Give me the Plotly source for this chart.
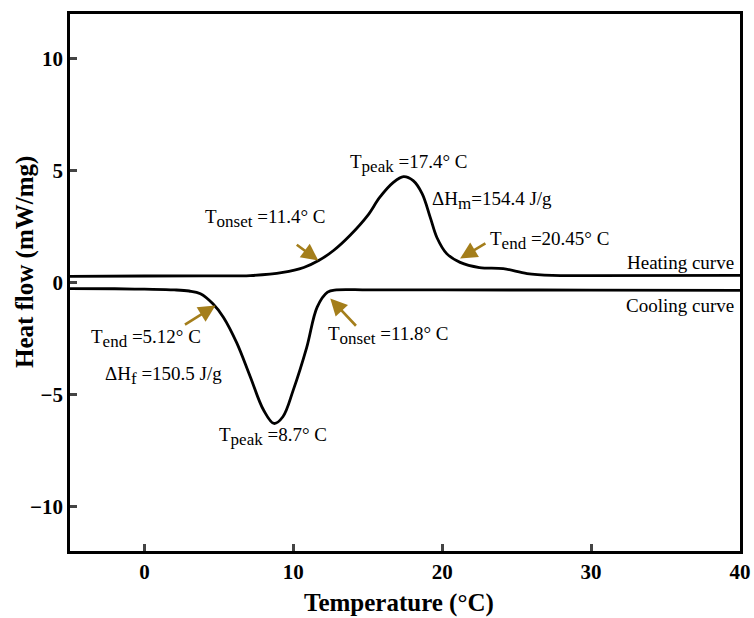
import plotly.graph_objects as go

heat_x = [-5, 0, 4, 7.1, 9.3, 10.7, 11.7, 12.7, 13.8, 15.0, 15.8, 16.7, 17.4, 18.05, 18.65, 19.2, 19.65, 20.3, 21.2, 22.5, 24.1, 25.7, 27.4, 30, 40]
heat_y = [0.27, 0.29, 0.3, 0.31, 0.45, 0.67, 0.98, 1.43, 2.1, 3.0, 3.8, 4.46, 4.73, 4.55, 3.97, 2.9, 2.0, 1.29, 0.9, 0.67, 0.62, 0.4, 0.32, 0.31, 0.32]

cool_x = [-5, -2, 0, 2, 3, 3.76, 4.6, 5.3, 6.2, 7.1, 8.0, 8.7, 9.3, 10.0, 10.9, 11.6, 12.3, 12.9, 15, 20, 30, 40]
cool_y = [-0.27, -0.28, -0.3, -0.33, -0.38, -0.5, -0.95, -1.55, -2.7, -4.2, -5.7, -6.3, -6.0, -4.8, -2.9, -1.1, -0.43, -0.33, -0.33, -0.33, -0.34, -0.35]

x_ticks = [0, 10, 20, 30, 40]
y_ticks = [-10, -5, 0, 5, 10]
y_tick_text = ["\u221210", "\u22125", "0", "5", "10"]

FONT = "Liberation Serif"
ARROW = "#A47E1B"


def sub(s):
    return "<sub><span style='font-size:17px'>" + s + "</span></sub>"


fig = go.Figure()
fig.add_trace(go.Scatter(x=heat_x, y=heat_y, mode="lines",
                         line=dict(color="black", width=2.8, shape="spline", smoothing=1.0),
                         showlegend=False, hoverinfo="skip"))
fig.add_trace(go.Scatter(x=cool_x, y=cool_y, mode="lines",
                         line=dict(color="black", width=2.8, shape="spline", smoothing=1.0),
                         showlegend=False, hoverinfo="skip"))

texts = [
    ("T" + sub("onset") + " =11.4\u00b0 C", 3.9, 2.86, "left"),
    ("T" + sub("peak") + " =17.4\u00b0 C", 13.7, 5.3, "left"),
    ("\u0394H" + sub("m") + "=154.4 J/g", 19.2, 3.66, "left"),
    ("T" + sub("end") + " =20.45\u00b0 C", 23.1, 1.875, "left"),
    ("Heating curve", 39.7, 0.9, "right"),
    ("Cooling curve", 39.7, -1.03, "right"),
    ("T" + sub("end") + " =5.12\u00b0 C", -3.7, -2.5, "left"),
    ("\u0394H" + sub("f") + " =150.5 J/g", -2.8, -4.15, "left"),
    ("T" + sub("peak") + " =8.7\u00b0 C", 4.9, -6.9, "left"),
    ("T" + sub("onset") + " =11.8\u00b0 C", 12.2, -2.37, "left"),
]
for t, x, y, anc in texts:
    fig.add_annotation(x=x, y=y, text=t, showarrow=False, xanchor=anc, yanchor="middle",
                       font=dict(family=FONT, size=19, color="black"))

arrows = [
    (11.68, 0.98, 10.13, 1.74),
    (21.2, 1.07, 23.0, 1.79),
    (4.77, -1.03, 2.62, -1.92),
    (12.48, -0.71, 14.3, -2.0),
]
for x, y, ax, ay in arrows:
    fig.add_annotation(x=x, y=y, ax=ax, ay=ay, axref="x", ayref="y", text="",
                       showarrow=True, arrowhead=2, arrowsize=1.3, arrowwidth=2.6,
                       arrowcolor=ARROW)

# axis titles
fig.add_annotation(xref="paper", yref="paper", x=-0.0672, y=0.538, textangle=-90,
                   text="<b>Heat flow (mW/mg)</b>", showarrow=False,
                   xanchor="center", yanchor="middle",
                   font=dict(family=FONT, size=25, color="black"))
fig.add_annotation(xref="paper", yref="paper", x=0.491, y=-0.0968,
                   text="<b>Temperature (\u00b0C)</b>", showarrow=False,
                   xanchor="center", yanchor="middle",
                   font=dict(family=FONT, size=25, color="black"))

fig.update_layout(
    width=754, height=618,
    margin=dict(l=70, r=14, t=14, b=67),
    paper_bgcolor="white", plot_bgcolor="white",
    font=dict(family=FONT, color="black"),
)
fig.update_xaxes(range=[-5, 40], tickvals=x_ticks, ticks="inside", ticklen=7, tickwidth=2.5,
                 showline=True, linewidth=2.5, linecolor="black", mirror=True, showgrid=False,
                 zeroline=False, automargin=False,
                 tickfont=dict(family=FONT, size=21, color="black", weight="bold"))
fig.update_yaxes(range=[-12, 12], tickvals=y_ticks, ticktext=y_tick_text, ticks="inside", ticklen=7,
                 tickwidth=2.5, showline=True, linewidth=2.5, linecolor="black", mirror=True,
                 showgrid=False, zeroline=False, automargin=False,
                 tickfont=dict(family=FONT, size=21, color="black", weight="bold"))

# remove the default 8px page margin so the figure fills the 754x618 window exactly
fig.write_html("out.html", config={"displayModeBar": False},
               post_script="document.body.style.margin='0';")
